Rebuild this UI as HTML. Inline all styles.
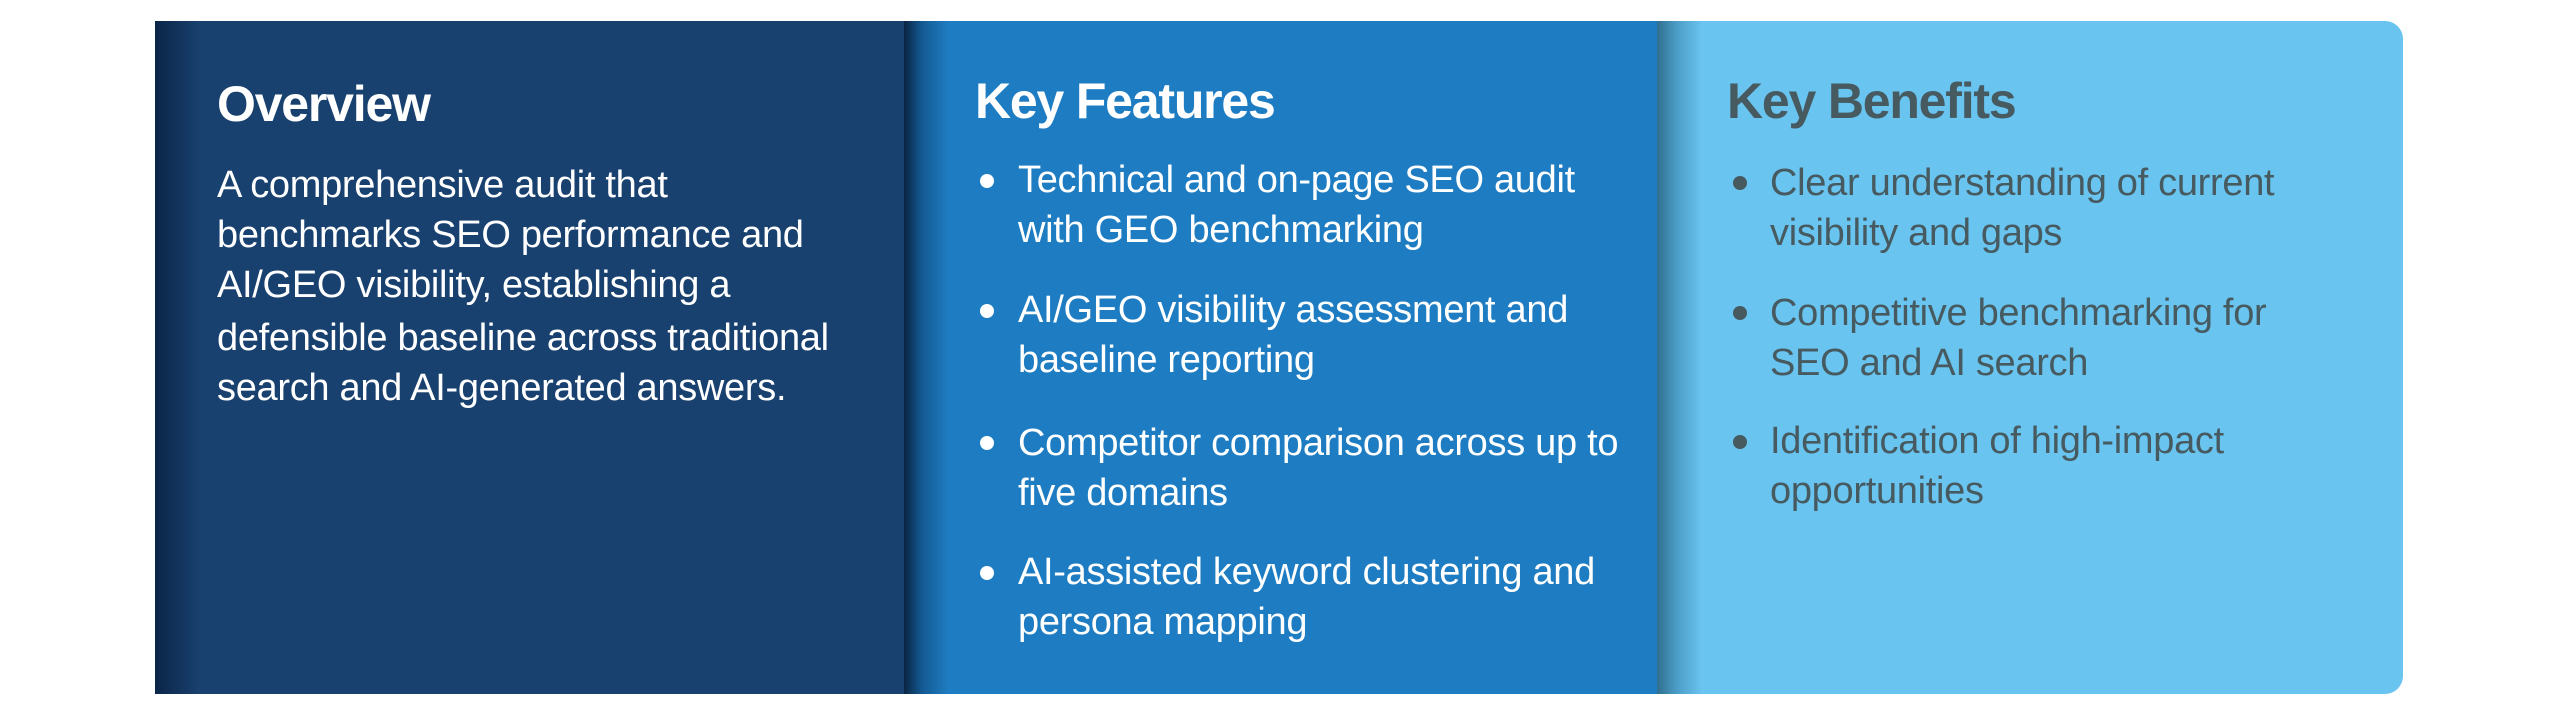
<!DOCTYPE html>
<html><head><meta charset="utf-8"><style>
html,body{margin:0;padding:0;background:#fff;}
body{width:2560px;height:716px;position:relative;overflow:hidden;font-family:"Liberation Sans",sans-serif;}
.p{position:absolute;top:21px;height:673px;}
.p1{left:155px;width:749px;background:#19416f;}
.p2{left:904px;width:753px;background:#1e7dc2;}
.p3{left:1657px;width:746px;background:#69c4ef;border-radius:0 18px 18px 0;}
.sh{position:absolute;top:0;left:0;width:45px;height:100%;}
.p1 .sh{background:linear-gradient(90deg,#0b2548,rgba(25,65,111,0));}
.p2 .sh{background:linear-gradient(90deg,#0a2443 0%,#145a93 40%,rgba(30,125,194,0) 100%);}
.p3 .sh{background:linear-gradient(90deg,#2f6f8f 0%,#4c9ec8 45%,rgba(105,196,239,0) 100%);}
.t{position:absolute;white-space:nowrap;line-height:50px;height:50px;}
.h{font-weight:bold;font-size:50px;letter-spacing:-1.2px;}
.b{font-size:38px;letter-spacing:-0.3px;}
.w{color:#fff;}
.g{color:#465a60;}
.d{position:absolute;width:14px;height:14px;border-radius:50%;}
</style></head><body>
<div class="p p1"><div class="sh"></div></div>
<div class="p p2"><div class="sh"></div></div>
<div class="p p3"><div class="sh"></div></div>

<div class="t h w" style="left:217px;top:79px;">Overview</div>
<div class="t b w" style="left:217px;top:160px;">A comprehensive audit that</div>
<div class="t b w" style="left:217px;top:210px;">benchmarks SEO performance and</div>
<div class="t b w" style="left:217px;top:260px;">AI/GEO visibility, establishing a</div>
<div class="t b w" style="left:217px;top:313px;">defensible baseline across traditional</div>
<div class="t b w" style="left:217px;top:363px;">search and AI-generated answers.</div>

<div class="t h w" style="left:975px;top:76px;">Key Features</div>
<div class="d" style="left:980px;top:174px;background:#fff"></div>
<div class="t b w" style="left:1018px;top:155px;">Technical and on-page SEO audit</div>
<div class="t b w" style="left:1018px;top:205px;">with GEO benchmarking</div>
<div class="d" style="left:980px;top:304px;background:#fff"></div>
<div class="t b w" style="left:1018px;top:285px;">AI/GEO visibility assessment and</div>
<div class="t b w" style="left:1018px;top:335px;">baseline reporting</div>
<div class="d" style="left:980px;top:436px;background:#fff"></div>
<div class="t b w" style="left:1018px;top:418px;">Competitor comparison across up to</div>
<div class="t b w" style="left:1018px;top:468px;">five domains</div>
<div class="d" style="left:980px;top:566px;background:#fff"></div>
<div class="t b w" style="left:1018px;top:547px;">AI-assisted keyword clustering and</div>
<div class="t b w" style="left:1018px;top:597px;">persona mapping</div>

<div class="t h g" style="left:1727px;top:76px;">Key Benefits</div>
<div class="d" style="left:1733px;top:176px;background:#465a60"></div>
<div class="t b g" style="left:1770px;top:158px;">Clear understanding of current</div>
<div class="t b g" style="left:1770px;top:208px;">visibility and gaps</div>
<div class="d" style="left:1733px;top:306px;background:#465a60"></div>
<div class="t b g" style="left:1770px;top:288px;">Competitive benchmarking for</div>
<div class="t b g" style="left:1770px;top:338px;">SEO and AI search</div>
<div class="d" style="left:1733px;top:435px;background:#465a60"></div>
<div class="t b g" style="left:1770px;top:416px;">Identification of high-impact</div>
<div class="t b g" style="left:1770px;top:466px;">opportunities</div>
</body></html>
